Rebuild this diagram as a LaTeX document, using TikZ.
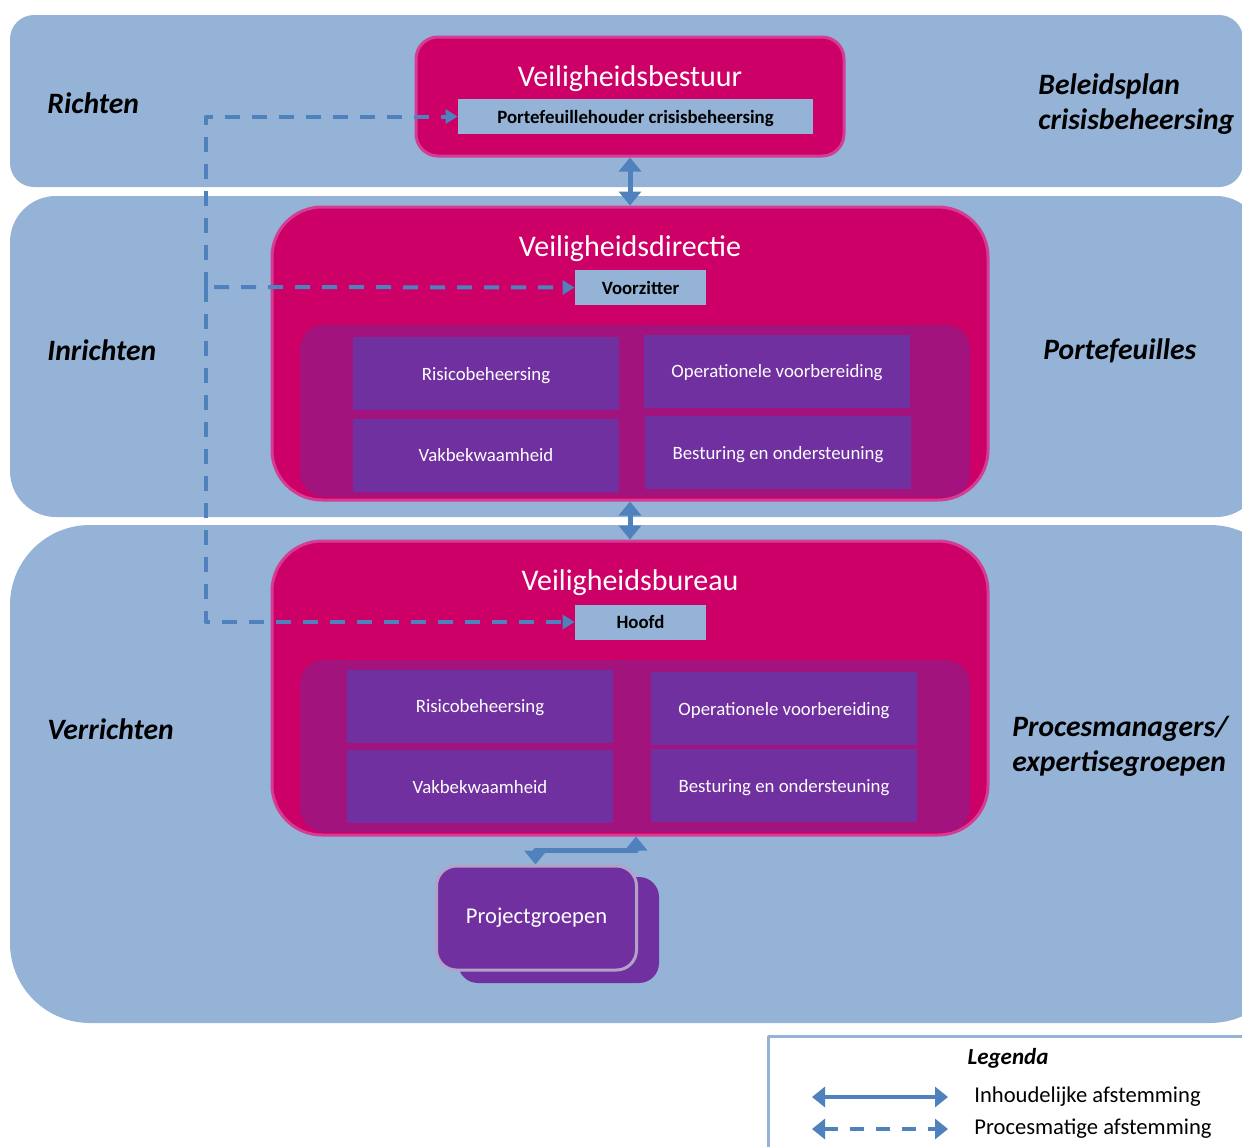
\documentclass[tikz,border=0pt]{standalone}
\usepackage{fontspec}
\setmainfont{Carlito}
\usetikzlibrary{arrows.meta}
\definecolor{bandblue}{HTML}{95B3D7}
\definecolor{boardpink}{HTML}{CC0066}
\definecolor{pinkrim}{HTML}{D43D94}
\definecolor{poolpurple}{HTML}{A3137D}
\definecolor{cellpurple}{HTML}{7030A0}
\definecolor{lilacrim}{HTML}{B3A2C7}
\definecolor{linkblue}{HTML}{4F81BD}
\tikzset{
  band/.style={fill=bandblue},
  board/.style={fill=boardpink,draw=pinkrim,line width=1.5pt,inner sep=0pt},
  pool/.style={fill=poolpurple,rounded corners=12pt,inner sep=0pt,minimum width=335pt,minimum height=86pt},
  cell/.style={fill=cellpurple,text=white,inner sep=0pt,text depth=0pt,minimum width=133pt,minimum height=36.5pt,font=\fontsize{9.4}{11}\selectfont},
  tag/.style={fill=bandblue,inner sep=0pt,text depth=0pt,minimum height=17.5pt,font=\bfseries\fontsize{9.4}{11}\selectfont},
  boardtitle/.style={text=white,inner sep=0pt,font=\fontsize{15}{18}\selectfont},
  tierlabel/.style={anchor=west,inner sep=0pt,align=left,font=\bfseries\itshape\fontsize{14.8}{17.5}\selectfont},
  contlink/.style={draw=linkblue,line width=2.5pt,{Triangle[width=11pt,length=7pt]}-{Triangle[width=11pt,length=7pt]}},
  proclink/.style={draw=linkblue,line width=2pt,dash pattern=on 7.5pt off 6pt,-{Triangle[width=7pt,length=6pt]}}
}
\begin{document}
\begin{tikzpicture}[x=0.5pt,y=-0.5pt,line join=round]
	\useasboundingbox (0,0) rectangle (1242,1146);
	\clip (0,0) rectangle (1242,1146);
	% three tiers
	\fill [band,rounded corners=12pt] (10,15) rectangle (1243,187);
	\fill [band,rounded corners=23pt] (10,196) rectangle (1262,517);
	\fill [band,rounded corners=40pt] (10,525) rectangle (1290,1023);
	\node [tierlabel] (richten) at (47,103) {Richten};
	\node [tierlabel] (inrichten) at (47,350) {Inrichten};
	\node [tierlabel] (verrichten) at (47,729) {Verrichten};
	\node [tierlabel] (beleid) at (1038,104) {Beleidsplan\\crisisbeheersing};
	\node [tierlabel] (portef) at (1043,351) {Portefeuilles};
	\node [tierlabel] (procesm) at (1012,746) {Procesmanagers/\\expertisegroepen};
	% bestuur
	\node [board,rounded corners=11pt,minimum width=214pt,minimum height=59.5pt] (bestuur) at (630,96.5) {};
	\node [boardtitle] (bestuurtitle) at (630,79) {Veiligheidsbestuur};
	\node [tag,minimum width=177.5pt] (pfh) at (635.5,116.5) {Portefeuillehouder crisisbeheersing};
	% directie
	\node [board,rounded corners=25pt,minimum width=358pt,minimum height=146.5pt] (directie) at (630,353.5) {};
	\node [boardtitle] (directietitle) at (630,249) {Veiligheidsdirectie};
	\node [tag,minimum width=65.5pt] (voorzitter) at (640.5,287.5) {Voorzitter};
	\node [pool] (dirpool) at (635,411) {};
	\node [cell] (dRisico) at (486,373.5) {Risicobeheersing};
	\node [cell] (dOper) at (777,371) {Operationele voorbereiding};
	\node [cell] (dVak) at (486,455) {Vakbekwaamheid};
	\node [cell] (dBest) at (778,452.5) {Besturing en ondersteuning};
	% bureau
	\node [board,rounded corners=25pt,minimum width=358pt,minimum height=147pt] (bureau) at (630,688) {};
	\node [boardtitle] (bureautitle) at (630,583) {Veiligheidsbureau};
	\node [tag,minimum width=65.5pt] (hoofd) at (640.5,622) {Hoofd};
	\node [pool] (burpool) at (635,746) {};
	\node [cell] (bRisico) at (480,706) {Risicobeheersing};
	\node [cell] (bOper) at (784,708.5) {Operationele voorbereiding};
	\node [cell] (bVak) at (480,786.5) {Vakbekwaamheid};
	\node [cell] (bBest) at (784,785.5) {Besturing en ondersteuning};
	% projectgroepen
	\node [fill=cellpurple,rounded corners=10pt,minimum width=100.5pt,minimum height=53pt] (pgback) at (558.5,930) {};
	\node [fill=cellpurple,draw=lilacrim,line width=1.5pt,rounded corners=10pt,minimum width=100pt,minimum height=52pt,text=white,font=\fontsize{11.3}{13}\selectfont] (pg) at (536.5,918) {Projectgroepen};
	% links
	\draw [contlink] (bestuur.south) -- (directie.north);
	\draw [contlink] (directie.south) -- (bureau.north);
	\draw [contlink] ([xshift=3pt]bureau.south) -- ++(0,14) -| ([xshift=-0.5pt]pg.north);
	\coordinate (split) at (206,287);
	\draw [proclink] (split) |- (pfh.west);
	\draw [proclink] (split) |- (hoofd.west);
	\draw [proclink] ([xshift=4pt]split) -- (voorzitter.west);
	% legend
	\draw [draw=bandblue,line width=1.5pt] (768,1160) -- (768,1036) -- (1260,1036);
	\node [inner sep=0pt,font=\bfseries\itshape\fontsize{11.5}{13}\selectfont] (legenda) at (1008,1058) {Legenda};
	\coordinate (contA) at (812,1097);
	\coordinate (contB) at (948,1097);
	\coordinate (procA) at (812,1129);
	\coordinate (procB) at (948,1129);
	\draw [contlink,line width=2pt,{Triangle[width=10pt,length=6.5pt]}-{Triangle[width=10pt,length=6.5pt]}] (contA) -- (contB);
	\draw [proclink,dash pattern=on 7pt off 6pt,{Triangle[width=10pt,length=6.5pt]}-{Triangle[width=10pt,length=6.5pt]}] (procA) -- (procB);
	\node [anchor=west,inner sep=0pt,font=\fontsize{11.3}{13}\selectfont] (inhoud) at (974,1097) {Inhoudelijke afstemming};
	\node [anchor=west,inner sep=0pt,font=\fontsize{11.3}{13}\selectfont] (proces) at (974,1129) {Procesmatige afstemming};
\end{tikzpicture}
\end{document}
